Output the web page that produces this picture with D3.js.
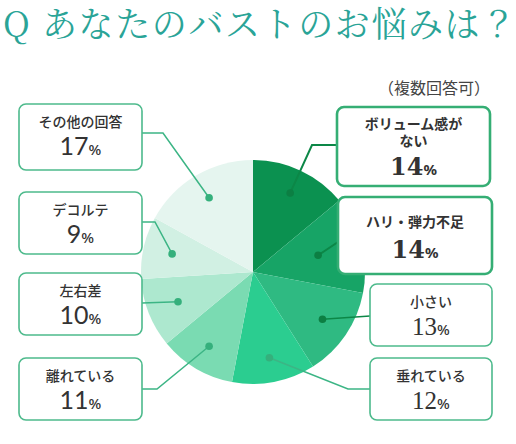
<!DOCTYPE html>
<html>
<head>
<meta charset="utf-8">
<script src="https://cdn.jsdelivr.net/npm/d3@7"></script>
<style>
  body { margin: 0; background: #fff; }
  svg { display: block; }
</style>
</head>
<body>
<div id="chart"></div>
<script>
var categories = ["ボリューム感がない", "ハリ・弾力不足", "小さい", "垂れている", "離れている", "左右差", "デコルテ", "その他の回答"];
var labelLines = [["ボリューム感が", "ない"], ["ハリ・弾力不足"], ["小さい"], ["垂れている"], ["離れている"], ["左右差"], ["デコルテ"], ["その他の回答"]];
var values = [14, 14, 13, 12, 11, 10, 9, 17];
var colors = ["#0b9150", "#17a466", "#2fba82", "#2bcd90", "#7adbb2", "#ade8cf", "#d1f0e3", "#e5f5ef"];

// label box layout: box rect, elbow point of leader, dot distance (share of radius)
var layout = [
    { x: 337, y: 107, w: 153, h: 79, strong: true, elbow: [312, 145], end: [337, 145], dot: 0.78 },
    { x: 338, y: 197, w: 154, h: 77, strong: true, elbow: null, end: [338, 242], dot: 0.6 },
    { x: 370, y: 284, w: 122, h: 62, strong: false, elbow: null, end: [370, 316], dot: 0.75 },
    { x: 370, y: 358, w: 122, h: 62, strong: false, elbow: [348, 389], end: [370, 389], dot: 0.78 },
    { x: 19, y: 358, w: 123, h: 62, strong: false, elbow: [157, 389], end: [142, 389], dot: 0.77 },
    { x: 19, y: 273, w: 123, h: 62, strong: false, elbow: null, end: [142, 303], dot: 0.72 },
    { x: 19, y: 192, w: 123, h: 62, strong: false, elbow: [155, 222], end: [142, 222], dot: 0.74 },
    { x: 19, y: 104, w: 123, h: 66, strong: false, elbow: [163, 133], end: [142, 133], dot: 0.77 }
];

var width = 516, height = 444;
var cx = 253, cy = 272, radius = 112;

var svg = d3.select("#chart").append("svg")
    .attr("width", width)
    .attr("height", height);

svg.append("text")
    .attr("x", 3)
    .attr("y", 37)
    .attr("fill", "#2aa497")
    .style("font-family", "'Noto Serif CJK JP', 'Liberation Serif', serif")
    .style("font-size", "35px")
    .style("letter-spacing", "1.6px")
    .text("Q あなたのバストのお悩みは？");

svg.append("text")
    .attr("x", 490)
    .attr("y", 94)
    .attr("text-anchor", "end")
    .attr("fill", "#444")
    .style("font-family", "'Noto Sans CJK JP', sans-serif")
    .style("font-size", "16px")
    .text("（複数回答可）");

var pie = d3.pie().sort(null).value(function(d) { return d; });
var arcs = pie(values);
var arc = d3.arc().innerRadius(0).outerRadius(radius);

var g = svg.append("g")
    .attr("transform", "translate(" + cx + "," + cy + ")");

g.selectAll("path.slice")
    .data(arcs)
    .enter().append("path")
    .attr("class", "slice")
    .attr("d", arc)
    .attr("fill", function(d, i) { return colors[i]; });

function dotPos(d, i) {
    var r = radius * layout[i].dot;
    var c = d3.arc().innerRadius(r).outerRadius(r).centroid(d);
    return [c[0] + cx, c[1] + cy];
}

var line = d3.line();

svg.selectAll("path.leader")
    .data(arcs)
    .enter().append("path")
    .attr("class", "leader")
    .attr("fill", "none")
    .attr("stroke", function(d, i) { return i < 3 ? "#0c8747" : "#3cb585"; })
    .attr("stroke-width", function(d, i) { return i < 2 ? 2 : 1.5; })
    .attr("d", function(d, i) {
        var L = layout[i];
        var pts = [dotPos(d, i)];
        if (L.elbow) pts.push(L.elbow);
        pts.push(L.end);
        return line(pts);
    });

svg.selectAll("circle.dot")
    .data(arcs)
    .enter().append("circle")
    .attr("class", "dot")
    .attr("cx", function(d, i) { return dotPos(d, i)[0]; })
    .attr("cy", function(d, i) { return dotPos(d, i)[1]; })
    .attr("r", 3.8)
    .attr("fill", function(d, i) { return i < 3 ? "#0c7f43" : "#35b07c"; });

var box = svg.selectAll("g.box")
    .data(categories)
    .enter().append("g")
    .attr("class", "box")
    .attr("transform", function(d, i) { return "translate(" + layout[i].x + "," + layout[i].y + ")"; });

box.append("rect")
    .attr("width", function(d, i) { return layout[i].w; })
    .attr("height", function(d, i) { return layout[i].h; })
    .attr("rx", 7)
    .attr("fill", "#fff")
    .attr("stroke", function(d, i) { return layout[i].strong ? "#35ae74" : "#4dba8c"; })
    .attr("stroke-width", function(d, i) { return layout[i].strong ? 2.6 : 1.6; });

box.each(function(d, i) {
    var L = layout[i];
    var sel = d3.select(this);
    var lines = labelLines[i];
    var midX = L.w / 2;
    var labelTop = lines.length > 1 ? 17 : (L.strong ? 25 : 18);
    lines.forEach(function(t, k) {
        sel.append("text")
            .attr("x", midX)
            .attr("y", labelTop + k * 17.5)
            .attr("dy", "0.35em")
            .attr("text-anchor", "middle")
            .attr("fill", "#333")
            .style("font-family", "'Noto Sans CJK JP', sans-serif")
            .style("font-size", "14px")
            .style("font-weight", L.strong ? 700 : 500)
            .text(t);
    });
    var base = lines.length > 1 ? 68 : (L.strong ? 61 : 51);
    var num = sel.append("text")
        .attr("x", midX)
        .attr("y", base)
        .attr("text-anchor", "middle")
        .attr("fill", "#333")
        .style("font-family", L.strong ? "'DejaVu Serif', serif" : (L.x > cx ? "'Liberation Serif', serif" : "Lato, sans-serif"))
        .style("font-weight", L.strong ? 700 : 400);
    num.append("tspan")
        .style("font-size", L.strong ? "24px" : "25px")
        .text(values[i]);
    num.append("tspan")
        .style("font-size", "15px")
        .style("font-family", "'Noto Sans', sans-serif")
        .style("font-weight", L.strong ? 700 : 500)
        .text("%");
});
</script>
</body>
</html>
